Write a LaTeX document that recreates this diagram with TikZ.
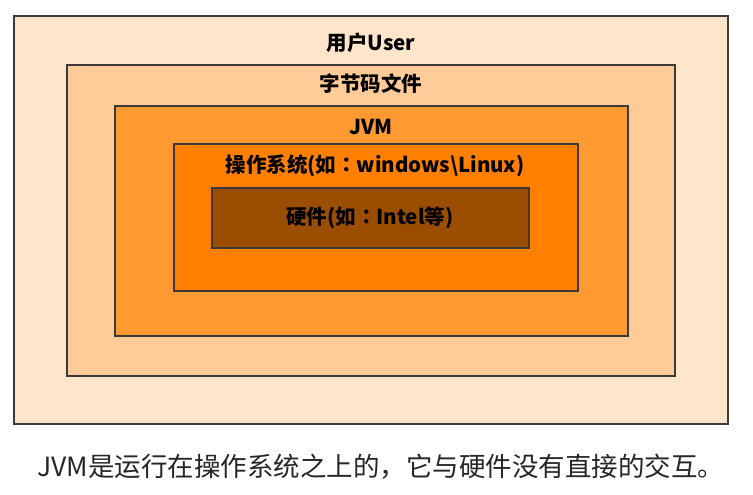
\documentclass[tikz,border=0pt]{standalone}
\usepackage{fontspec}
\newfontfamily\cjk{Noto Sans CJK SC}
\newfontfamily\cjkjp{Noto Sans CJK JP}
\definecolor{c1}{HTML}{FFE6CA}
\definecolor{c2}{HTML}{FFCC99}
\definecolor{c3}{HTML}{FF9A33}
\definecolor{c4}{HTML}{FF8000}
\definecolor{c5}{HTML}{9C4E00}
\definecolor{edge}{HTML}{3A3A3A}
\newcommand{\fwcolon}{{\cjkjp ：}}
\begin{document}
\begin{tikzpicture}[x=1pt,y=-1pt,
  layer/.style={draw=edge,line width=1.6pt},
  lbl/.style={font=\cjk\bfseries\fontsize{20.5}{24}\selectfont,text=black,inner sep=0pt},
  captext/.style={font=\cjk\fontsize{26.5}{30}\selectfont,text=black!85,inner sep=0pt}]
\useasboundingbox (0,0) rectangle (753,495);
\fill[white] (0,0) rectangle (753,495);
\draw[layer,fill=c1] (14,16) rectangle (728,424);
\draw[layer,fill=c2] (67,65) rectangle (675,376);
\draw[layer,fill=c3] (115,106) rectangle (628,336);
\draw[layer,fill=c4] (174,144) rectangle (578,291);
\draw[layer,fill=c5] (212,188) rectangle (529,248);
\node[lbl] (user) at (371,43) {用户User};
\node[lbl] (byte) at (371,84) {字节码文件};
\node[lbl] (jvm) at (371,127) {JVM};
\node[lbl] (os) at (375,166) {操作系统(如\fwcolon windows\textbackslash Linux)};
\node[lbl] (hw) at (370,218) {硬件(如\fwcolon Intel等)};
\node[captext] (caption) at (381,467) {JVM是运行在操作系统之上的，它与硬件没有直接的交互。};
\end{tikzpicture}
\end{document}
